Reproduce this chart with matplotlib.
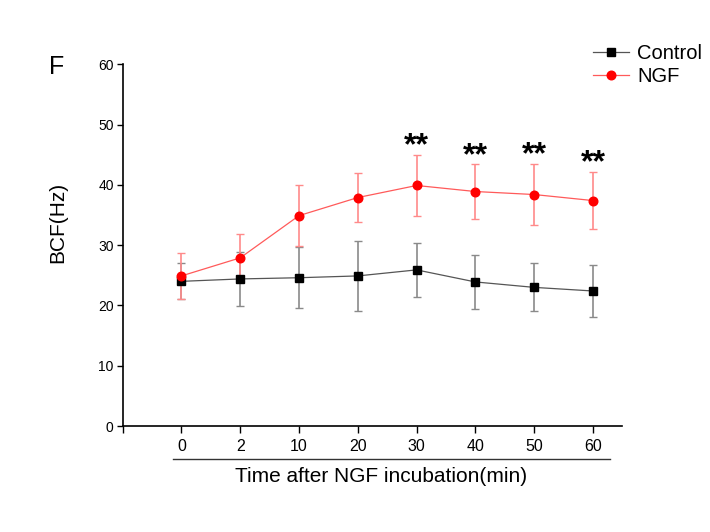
import matplotlib
matplotlib.use("Agg")
import matplotlib.pyplot as plt
import numpy as np

plt.rcParams['font.family'] = ['Liberation Sans', 'DejaVu Sans']

categories = ['0', '2', '10', '20', '30', '40', '50', '60']
control_mean = [24.0, 24.4, 24.6, 24.9, 25.9, 23.9, 23.0, 22.4]
control_err = [3.0, 4.5, 5.1, 5.8, 4.5, 4.5, 4.0, 4.3]
ngf_mean = [24.9, 27.9, 34.9, 37.9, 39.9, 38.9, 38.4, 37.4]
ngf_err = [3.8, 4.0, 5.0, 4.0, 5.0, 4.5, 5.1, 4.8]
sig_labels = ['', '', '', '', '**', '**', '**', '**']
yticks = [0, 10, 20, 30, 40, 50, 60]

fig = plt.figure(figsize=(7.10, 5.32), dpi=100)
ax = fig.add_axes([0.1728, 0.1992, 0.7037, 0.6799])

x = np.arange(len(categories))

ax.errorbar(x, control_mean, yerr=control_err, fmt='none', ecolor='#8a8a8a',
            elinewidth=1.2, capsize=3, capthick=1.0, zorder=2)
ax.errorbar(x, ngf_mean, yerr=ngf_err, fmt='none', ecolor='#ff8a8a',
            elinewidth=1.2, capsize=3, capthick=1.0, zorder=2)
l1, = ax.plot(x, control_mean, color='#555555', lw=0.9, marker='s', ms=5.6,
              mfc='black', mec='black', zorder=3, label='Control')
l2, = ax.plot(x, ngf_mean, color='#ff5a5a', lw=0.9, marker='o', ms=6.2,
              mfc='#ff0000', mec='#ff0000', zorder=3, label='NGF')

for xi, m, e, s in zip(x, ngf_mean, ngf_err, sig_labels):
    if s:
        ax.text(xi, m + e + 0.1, s, ha='center', va='baseline', fontsize=23,
                fontweight='bold', color='black')

ax.set_xlim(-1, 7.5)
ax.set_ylim(0, 60)
ax.set_yticks(yticks)
ax.set_yticklabels([str(v) for v in yticks], fontsize=10)
ax.set_xticks(np.concatenate([[-1], x]))
ax.set_xticklabels([''] + categories, fontsize=11.5)

for sp in ['top', 'right']:
    ax.spines[sp].set_visible(False)
for sp in ['left', 'bottom']:
    ax.spines[sp].set_linewidth(1.2)
ax.tick_params(axis='y', direction='out', length=4.5, width=1.0, pad=2)
ax.tick_params(axis='x', direction='out', length=5, width=1.0, pad=4)

# line under tick labels
ax.plot([0.1, 0.975], [-0.0912, -0.0912], transform=ax.transAxes,
        color='#333333', lw=1.0, clip_on=False)

ax.text(0.518, -0.140, 'Time after NGF incubation(min)', transform=ax.transAxes,
        ha='center', va='center', fontsize=15)
ax.text(-0.1295, 0.564, 'BCF(Hz)', transform=ax.transAxes, rotation=90,
        ha='center', va='center', fontsize=15)
fig.text(57 / 710, 1 - 67 / 532, 'F', ha='center', va='center', fontsize=18)

leg = fig.legend(handles=[l1, l2], loc='upper left',
                 bbox_to_anchor=(592.7 / 710, 1 - 44 / 532),
                 bbox_transform=fig.transFigure, frameon=False, fontsize=14.5,
                 handlelength=1.8, handletextpad=0.4, borderpad=0,
                 borderaxespad=0, labelspacing=0.2)

fig.savefig('out.png', dpi=100)
